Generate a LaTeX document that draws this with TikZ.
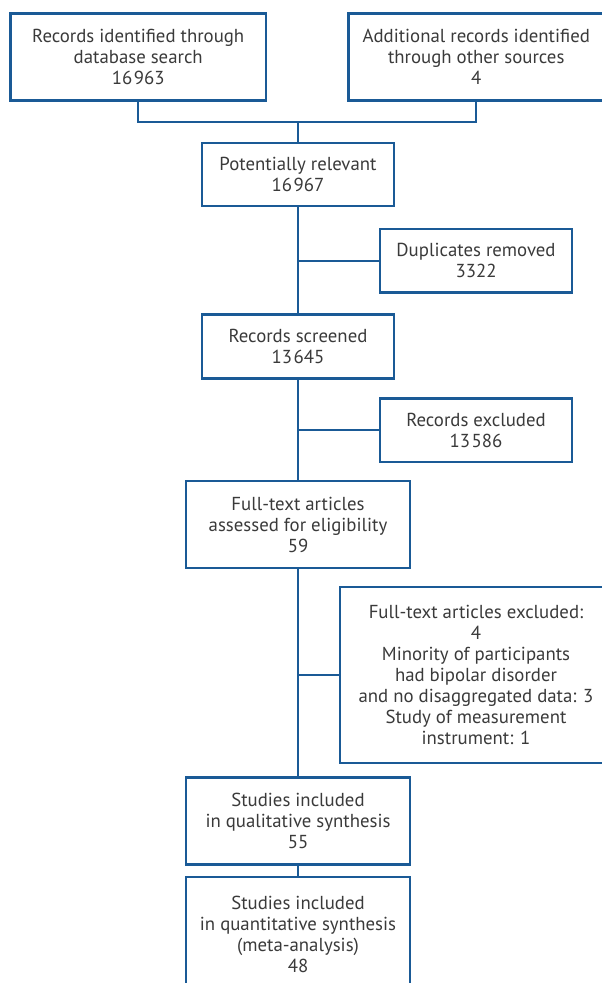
\documentclass[tikz,border=0pt]{standalone}
\usepackage{fontspec}
\setmainfont{PT Sans}
\definecolor{lineblue}{HTML}{1A5A96}
\definecolor{txtgrey}{HTML}{3A3A3A}
\newcommand{\thsp}{\kern1.5pt}
\begin{document}
\begin{tikzpicture}[x=1pt,y=-1pt,
  box/.style={draw=lineblue,line width=2.2pt,rectangle,inner sep=0pt,align=center,
    text=txtgrey,font=\fontsize{18.8}{21}\selectfont},
  link/.style={draw=lineblue,line width=2.2pt}]
\useasboundingbox (0,0) rectangle (602,983);
\clip (0,0) rectangle (602,983);
\node[box,minimum width=255.5pt,minimum height=87pt] (A) at (138.25,57) {Records identified through\\database search\\16\thsp963};
\node[box,minimum width=255.5pt,minimum height=87pt] (B) at (476.25,57) {Additional records identified\\through other sources\\4};
\node[box,minimum width=192pt,minimum height=63pt] (C) at (298,174.5) {Potentially relevant\\16\thsp967};
\node[box,minimum width=192pt,minimum height=63.5pt] (D) at (476,260.75) {Duplicates removed\\3322};
\node[box,minimum width=192pt,minimum height=64pt] (E) at (298,346.5) {Records screened\\13\thsp645};
\node[box,minimum width=192pt,minimum height=63.5pt] (F) at (476,430.25) {Records excluded\\13\thsp586};
\node[box,minimum width=224pt,minimum height=87pt] (G) at (298,524.5) {Full-text articles\\assessed for eligibility\\59};
\node[box,minimum width=272pt,minimum height=176pt] (H) at (476,675) {Full-text articles excluded:\\4\\Minority of participants\\had bipolar disorder\\and no disaggregated data: 3\\Study of measurement\\instrument: 1};
\node[box,minimum width=224pt,minimum height=87pt] (I) at (298,821) {Studies included\\in qualitative synthesis\\55};
\node[box,minimum width=224pt,minimum height=115pt] (J) at (298,934.5) {Studies included\\in quantitative synthesis\\(meta-analysis)\\48};
\coordinate (j1) at (298,122);
\coordinate (b1) at (298,260.75);
\coordinate (b2) at (298,430.25);
\coordinate (b3) at (298,675);
\draw[link] (A.south) |- (j1) -| (B.south);
\draw[link] (j1) -- (C.north);
\draw[link] (C.south) -- (E.north);
\draw[link] (b1) -- (D.west);
\draw[link] (E.south) -- (G.north);
\draw[link] (b2) -- (F.west);
\draw[link] (G.south) -- (I.north);
\draw[link] (b3) -- (H.west);
\draw[link] (I.south) -- (J.north);
\end{tikzpicture}
\end{document}
